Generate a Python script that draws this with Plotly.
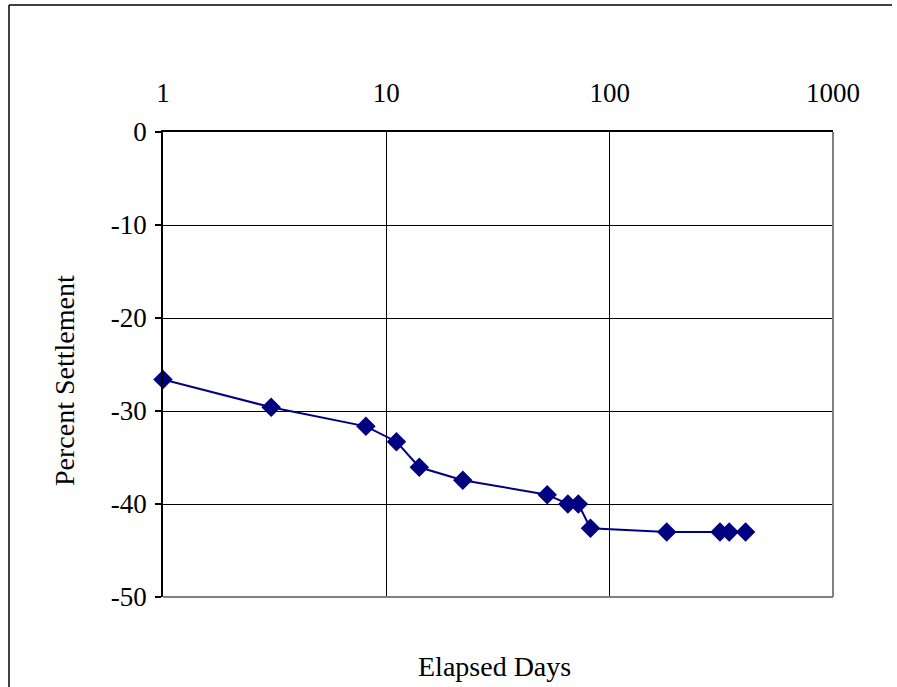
import plotly.graph_objects as go

elapsed_days = [1, 3.05, 8.1, 11.1, 14.05, 22, 52.5, 65, 72.4, 82, 180, 312, 343, 406]
percent_settlement = [-26.6, -29.6, -31.65, -33.3, -36.05, -37.45, -39.0, -40.0, -40.0, -42.6, -43.0, -43.0, -43.0, -43.0]
x_ticks = [1, 10, 100, 1000]
y_ticks = [0, -10, -20, -30, -40, -50]

W, H = 897, 687
L, R, T, B = 163, 833, 132, 597
pw, ph = R - L, B - T

def px(x):
    return (x - L) / pw

def py(y):
    return (B - y) / ph

fam = "Liberation Serif, Times New Roman, serif"
tick_font = dict(family=fam, size=27, color="black")
title_font = dict(family=fam, size=28, color="black")

fig = go.Figure()
fig.add_trace(go.Scatter(
    x=elapsed_days, y=percent_settlement, mode="lines+markers",
    line=dict(color="#000080", width=2),
    marker=dict(symbol="diamond", size=15, color="#000080"),
    cliponaxis=False,
    showlegend=False,
))

fig.update_layout(
    width=W, height=H,
    margin=dict(l=L, r=W - R, t=T, b=H - B),
    paper_bgcolor="white", plot_bgcolor="white",
    font=tick_font,
    xaxis=dict(
        type="log", range=[0, 3], side="top",
        tickvals=x_ticks, ticktext=[str(v) for v in x_ticks],
        showgrid=True, gridcolor="black", gridwidth=1,
        showline=True, linecolor="black", linewidth=1.5,
        ticks="", zeroline=False, ticklabelstandoff=17,
        tickfont=tick_font,
    ),
    yaxis=dict(
        range=[-50, 0], tickvals=y_ticks, ticktext=[str(v) for v in y_ticks],
        showgrid=True, gridcolor="black", gridwidth=1,
        showline=True, linecolor="black", linewidth=1.5,
        ticks="outside", ticklen=6, tickcolor="black", tickwidth=1.5,
        zeroline=False, tickfont=tick_font, ticklabelstandoff=3,
    ),
    shapes=[
        dict(type="line", xref="paper", yref="paper", x0=1, x1=1, y0=0, y1=1,
             line=dict(color="#808080", width=2)),
        dict(type="line", xref="paper", yref="paper", x0=0, x1=1, y0=0, y1=0,
             line=dict(color="#808080", width=2)),
        dict(type="line", xref="paper", yref="paper", x0=px(9), x1=px(892), y0=py(5), y1=py(5),
             line=dict(color="black", width=1.5)),
        dict(type="line", xref="paper", yref="paper", x0=px(9), x1=px(9), y0=py(5), y1=py(690),
             line=dict(color="black", width=1.5)),
    ],
    annotations=[
        dict(text="Elapsed Days", xref="paper", yref="paper", x=px(494), y=py(666),
             showarrow=False, font=title_font, xanchor="center", yanchor="middle"),
        dict(text="Percent Settlement", xref="paper", yref="paper", x=px(64), y=py(381),
             showarrow=False, font=title_font, textangle=-90, xanchor="center", yanchor="middle"),
    ],
)

fig.write_html("out.html", config={"displayModeBar": False},
               post_script="document.body.style.margin='0';document.body.style.overflow='hidden';")
